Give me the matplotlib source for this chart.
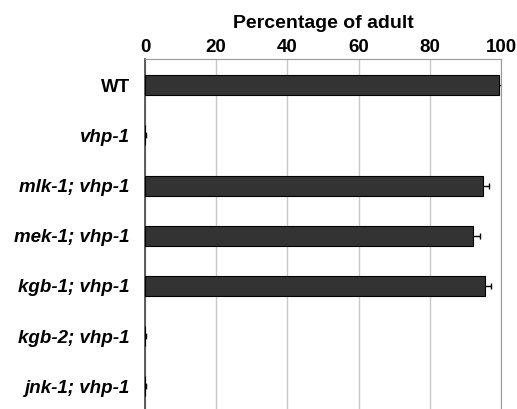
import numpy as np
import matplotlib.pyplot as plt

plt.rcParams['font.family'] = ['Liberation Sans', 'DejaVu Sans']

strains = ['WT', 'vhp-1', 'mlk-1; vhp-1', 'mek-1; vhp-1', 'kgb-1; vhp-1', 'kgb-2; vhp-1', 'jnk-1; vhp-1']
adult_pct = [99.5, 0, 95.0, 92.2, 95.5, 0, 0]
adult_err = [1.0, 0, 1.6, 2.0, 1.6, 0, 0]
xticks = [0, 20, 40, 60, 80, 100]

fig = plt.figure(figsize=(5.17, 4.09), dpi=100)
ax = fig.add_axes([0.2805, 0.0, 0.6886, 0.8557])

y = np.arange(len(strains))
ax.barh(y, adult_pct, height=0.4, color='#333333', edgecolor='black', linewidth=0.8, zorder=3)
# error bars behind the bars, so only the outer half shows
ax.errorbar(adult_pct, y, xerr=adult_err, fmt='none', ecolor='black', elinewidth=1, capsize=2, zorder=2)
# tiny marks at zero for the non-surviving strains
for yi, v in zip(y, adult_pct):
    if v == 0:
        ax.plot([0.3, 0.3], [yi - 0.04, yi + 0.04], color='black', lw=1, zorder=4)

ax.set_xlim(0, 100)
ax.set_ylim(6.45, -0.52)
ax.set_xticks(xticks)
ax.xaxis.tick_top()
ax.xaxis.set_label_position('top')
ax.set_xlabel('Percentage of adult', fontsize=14, fontweight='bold', labelpad=8)
ax.tick_params(axis='x', length=0, labelsize=13.5, pad=2)
for lab in ax.get_xticklabels():
    lab.set_fontweight('bold')

ax.set_yticks(y)
ax.set_yticklabels(strains)
ax.tick_params(axis='y', length=0, labelsize=13.5, pad=11)
for i, lab in enumerate(ax.get_yticklabels()):
    lab.set_fontweight('bold')
    if strains[i] != 'WT':
        lab.set_fontstyle('italic')

ax.grid(axis='x', color='#c8c8c8', linewidth=1, zorder=0)
ax.spines['bottom'].set_visible(False)
ax.spines['right'].set_color('#999999')
ax.spines['top'].set_color('#999999')
ax.spines['left'].set_color('#444444')
ax.spines['left'].set_linewidth(1.2)

fig.savefig('out.png', dpi=100)
